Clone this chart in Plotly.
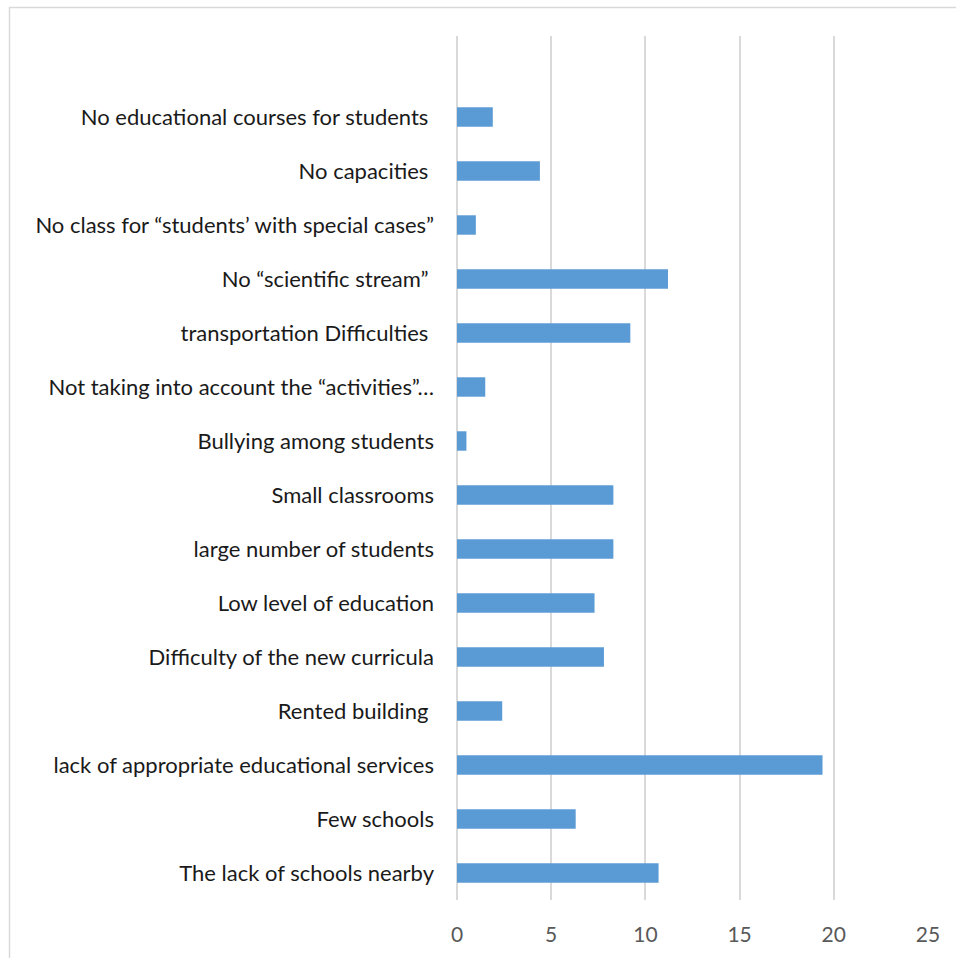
import plotly.graph_objects as go

# Reasons, listed bottom-to-top as they appear on the axis
reasons = [
    "The lack of schools nearby",
    "Few schools",
    "lack of appropriate educational services",
    "Rented building ",
    "Difficulty of the new curricula",
    "Low level of education",
    "large number of students",
    "Small classrooms",
    "Bullying among students",
    "Not taking into account the \u201cactivities\u201d\u2026",
    "transportation Difficulties ",
    "No \u201cscientific stream\u201d ",
    "No class for \u201cstudents\u2019 with special cases\u201d",
    "No capacities ",
    "No educational courses for students ",
]
values = [10.7, 6.3, 19.4, 2.4, 7.8, 7.3, 8.3, 8.3, 0.5, 1.5, 9.2, 11.2, 1.0, 4.4, 1.9]
x_ticks = [0, 5, 10, 15, 20, 25]

W, H = 956, 958
L, R, T, B = 457, 28, 36, 58

fig = go.Figure(
    go.Bar(
        x=values,
        y=reasons,
        orientation="h",
        marker=dict(color="#5B9BD5", line=dict(width=0)),
        width=0.36,
        hoverinfo="x+y",
    )
)

pw = W - L - R
ph = H - T - B
def px_x(p):
    return (p - L) / pw
def px_y(p):
    return (H - B - p) / ph

# outer chart frame (top and left edges)
frame = dict(color="#D9D9D9", width=1.5)
fig.add_shape(type="line", xref="paper", yref="paper",
              x0=px_x(9), x1=px_x(W + 5), y0=px_y(7.5), y1=px_y(7.5), line=frame)
fig.add_shape(type="line", xref="paper", yref="paper",
              x0=px_x(9.5), x1=px_x(9.5), y0=px_y(7), y1=px_y(H + 5), line=frame)

fig.update_layout(
    width=W,
    height=H,
    margin=dict(l=L, r=R, t=T, b=B, pad=0),
    paper_bgcolor="white",
    plot_bgcolor="white",
    showlegend=False,
    font=dict(family="Lato, 'Open Sans', sans-serif", size=22, color="#1A1A1A"),
    xaxis=dict(
        range=[0, 25],
        tickvals=x_ticks,
        showgrid=True,
        gridcolor="#D9D9D9",
        gridwidth=1.5,
        zeroline=True,
        zerolinecolor="#D9D9D9",
        zerolinewidth=1.5,
        showline=False,
        ticks="",
        tickfont=dict(size=21, color="#595959"),
        ticklabelstandoff=20,
        fixedrange=True,
        layer="below traces",
    ),
    yaxis=dict(
        type="category",
        categoryorder="array",
        categoryarray=reasons,
        range=[-0.5, len(reasons) + 0.5],
        showgrid=False,
        zeroline=False,
        showline=False,
        ticks="",
        tickfont=dict(size=22, color="#1A1A1A"),
        ticklabelstandoff=22,
        fixedrange=True,
    ),
)

fig.write_html("out.html")
